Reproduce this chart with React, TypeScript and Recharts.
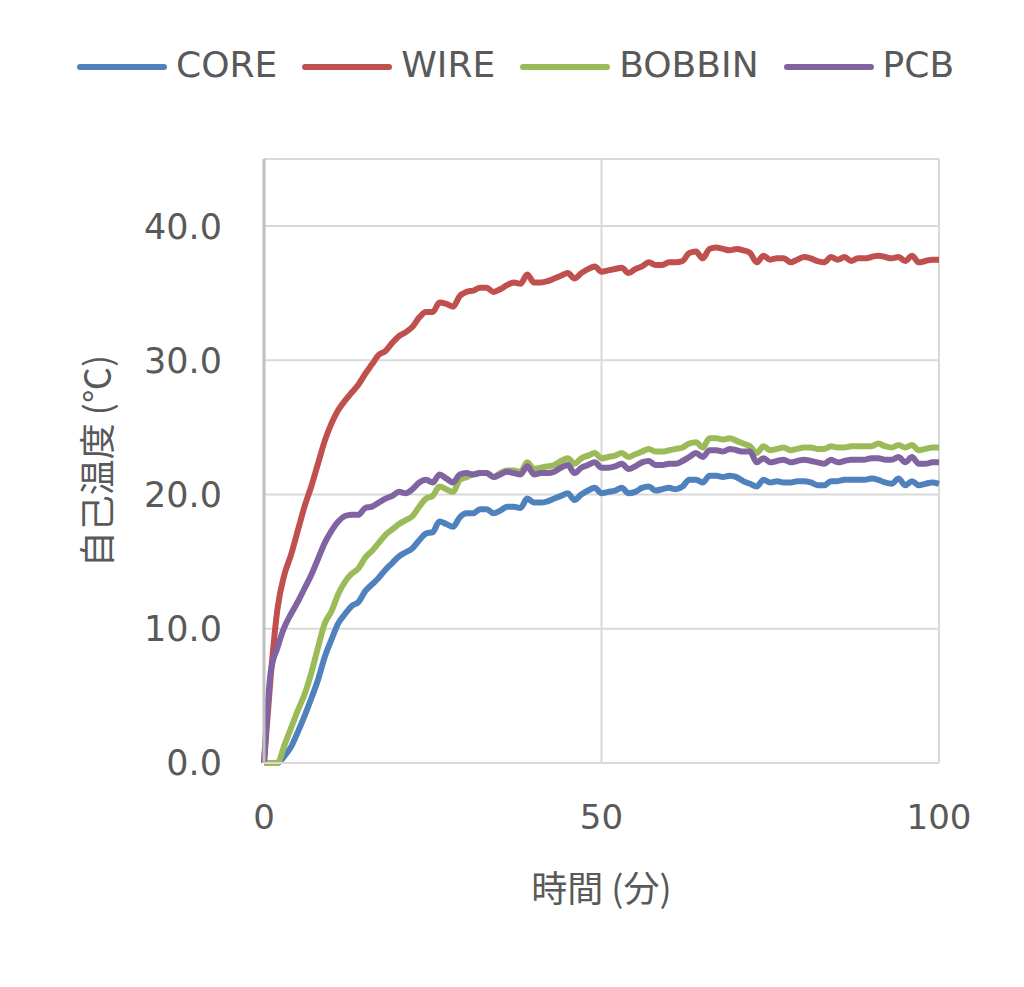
import React from 'react';
import { LineChart, Line, XAxis, YAxis, CartesianGrid, Legend, Label } from 'recharts';

// minutes since start
const minutes = [
  0, 1, 2, 3, 4, 5, 6, 7, 8, 9,
  10, 11, 12, 13, 14, 15, 16, 17, 18, 19,
  20, 21, 22, 23, 24, 25, 26, 27, 28, 29,
  30, 31, 32, 33, 34, 35, 36, 37, 38, 39,
  40, 41, 42, 43, 44, 45, 46, 47, 48, 49,
  50, 51, 52, 53, 54, 55, 56, 57, 58, 59,
  60, 61, 62, 63, 64, 65, 66, 67, 68, 69,
  70, 71, 72, 73, 74, 75, 76, 77, 78, 79,
  80, 81, 82, 83, 84, 85, 86, 87, 88, 89,
  90, 91, 92, 93, 94, 95, 96, 97, 98, 99,
  100,
];

const core = [
  0, 0, 0, 0.5, 1.2, 2.3, 3.5, 4.8, 6.2, 7.9,
  9.2, 10.4, 11.1, 11.7, 12.0, 12.8, 13.3, 13.8, 14.4, 14.9,
  15.4, 15.7, 16.0, 16.6, 17.1, 17.2, 18.0, 17.8, 17.6, 18.3,
  18.6, 18.6, 18.9, 18.9, 18.6, 18.8, 19.1, 19.1, 19.0, 19.7,
  19.4, 19.4, 19.5, 19.7, 19.9, 20.1, 19.6, 20.0, 20.3, 20.5,
  20.1, 20.2, 20.3, 20.5, 20.1, 20.2, 20.5, 20.6, 20.3, 20.4,
  20.5, 20.4, 20.6, 21.1, 21.1, 20.9, 21.4, 21.4, 21.3, 21.4,
  21.3, 21.0, 20.8, 20.6, 21.1, 20.9, 21.0, 20.9, 20.9, 21.0,
  21.0, 20.9, 20.7, 20.7, 21.0, 21.0, 21.1, 21.1, 21.1, 21.1,
  21.2, 21.1, 20.9, 20.8, 21.2, 20.7, 21.0, 20.7, 20.8, 20.9,
  20.8,
];

const wire = [
  0, 6.5, 11.5, 14.0, 15.5, 17.3, 19.1, 20.6, 22.3, 24.0,
  25.3, 26.3, 27.0, 27.6, 28.2, 29.0, 29.7, 30.4, 30.7, 31.3,
  31.8, 32.1, 32.5, 33.2, 33.6, 33.6, 34.3, 34.2, 34.0, 34.8,
  35.1, 35.2, 35.4, 35.4, 35.1, 35.3, 35.6, 35.8, 35.7, 36.4,
  35.8, 35.8, 35.9, 36.1, 36.3, 36.5, 36.1, 36.5, 36.8, 37.0,
  36.6, 36.7, 36.8, 36.9, 36.5, 36.8, 37.0, 37.3, 37.1, 37.1,
  37.3, 37.3, 37.4, 38.0, 38.1, 37.6, 38.3, 38.4, 38.3, 38.2,
  38.3, 38.2, 38.0, 37.3, 37.8, 37.5, 37.6, 37.6, 37.3, 37.5,
  37.7, 37.6, 37.4, 37.3, 37.7, 37.5, 37.7, 37.4, 37.6, 37.6,
  37.7, 37.8, 37.7, 37.6, 37.7, 37.4, 37.8, 37.3, 37.4, 37.5,
  37.5,
];

const bobbin = [
  0, 0, 0, 1.3, 2.6, 3.9, 5.1, 6.7, 8.6, 10.4,
  11.3, 12.6, 13.5, 14.1, 14.5, 15.3, 15.8, 16.4, 17.0, 17.4,
  17.8, 18.1, 18.4, 19.1, 19.7, 19.9, 20.6, 20.4, 20.2, 21.1,
  21.3, 21.5, 21.6, 21.6, 21.3, 21.6, 21.8, 21.8, 21.7, 22.4,
  21.9, 22.0, 22.1, 22.2, 22.5, 22.7, 22.3, 22.7, 22.9, 23.1,
  22.7, 22.8, 22.9, 23.1, 22.8, 23.0, 23.2, 23.4, 23.2, 23.2,
  23.3, 23.4, 23.5, 23.8, 23.9, 23.5, 24.2, 24.2, 24.1, 24.2,
  24.0, 23.8, 23.6, 23.1, 23.6, 23.3, 23.4, 23.5, 23.3, 23.4,
  23.5, 23.5, 23.4, 23.4, 23.6, 23.5, 23.5, 23.6, 23.6, 23.6,
  23.6, 23.8, 23.6, 23.5, 23.7, 23.5, 23.7, 23.3, 23.4, 23.5,
  23.5,
];

const pcb = [
  0, 6.8, 8.6, 10.1, 11.1, 12.0, 13.0, 14.0, 15.2, 16.4,
  17.3, 18.0, 18.4, 18.5, 18.5, 19.0, 19.1, 19.4, 19.7, 19.9,
  20.2, 20.1, 20.4, 20.9, 21.1, 20.9, 21.5, 21.2, 20.9, 21.5,
  21.6, 21.5, 21.6, 21.6, 21.3, 21.5, 21.7, 21.6, 21.5, 22.1,
  21.5, 21.6, 21.6, 21.7, 22.0, 22.2, 21.6, 22.0, 22.2, 22.4,
  22.0, 22.0, 22.1, 22.3, 21.9, 22.1, 22.4, 22.5, 22.2, 22.2,
  22.3, 22.3, 22.5, 22.8, 23.1, 22.8, 23.3, 23.3, 23.2, 23.4,
  23.3, 23.2, 23.2, 22.4, 22.7, 22.4, 22.5, 22.6, 22.4, 22.5,
  22.6, 22.5, 22.4, 22.3, 22.6, 22.4, 22.5, 22.6, 22.6, 22.6,
  22.7, 22.7, 22.6, 22.6, 22.8, 22.4, 22.8, 22.3, 22.3, 22.4,
  22.4,
];

const xTicks = [0, 50, 100];
const yTicks = [0, 10, 20, 30, 40];

const SERIES = [
  { key: 'CORE', color: '#4F81BD', values: core },
  { key: 'WIRE', color: '#C0504D', values: wire },
  { key: 'BOBBIN', color: '#9BBB59', values: bobbin },
  { key: 'PCB', color: '#8064A2', values: pcb },
];

const data = minutes.map((t, i) => {
  const row: Record<string, number> = { t };
  SERIES.forEach(s => { row[s.key] = s.values[i]; });
  return row;
});

const TEXT = '#595959';
const FONT = '"DejaVu Sans", Verdana, sans-serif';
const CJK = '"Noto Sans CJK JP", "DejaVu Sans", sans-serif';

function LegendRow() {
  return (
    <div style={{ display: 'flex', alignItems: 'center', height: 40, paddingLeft: 68, fontFamily: FONT, fontSize: 36, color: TEXT }}>
      {SERIES.map((s, i) => (
        <div key={s.key} style={{ display: 'flex', alignItems: 'center', marginRight: i < SERIES.length - 1 ? 24 : 0 }}>
          <svg width={92} height={10} style={{ marginRight: 8, marginTop: 6 }}>
            <line x1={4} y1={5} x2={88} y2={5} stroke={s.color} strokeWidth={6} strokeLinecap="round" />
          </svg>
          <span>{s.key}</span>
        </div>
      ))}
    </div>
  );
}

export default function App() {
  return (
    <div style={{ width: 1008, height: 970 }}>
      <LineChart width={1008} height={970} data={data} margin={{ top: 111, right: 77, left: 0, bottom: 65 }}>
        <CartesianGrid stroke="#d9d9d9" strokeWidth={2} />
        <Legend
          verticalAlign="top"
          align="left"
          height={40}
          wrapperStyle={{ top: 36, left: 0, height: 40 }}
          content={() => <LegendRow />}
        />
        <XAxis
          dataKey="t"
          type="number"
          domain={[0, 100]}
          ticks={xTicks}
          height={150}
          axisLine={{ stroke: '#d9d9d9', strokeWidth: 2 }}
          tickLine={false}
          tickSize={0}
          tickMargin={42}
          tick={{ fill: TEXT, fontSize: 34, fontFamily: FONT }}
        >
          <Label
            content={({ viewBox }: any) => (
              <text x={viewBox.x + viewBox.width / 2} y={viewBox.y + 139} textAnchor="middle" fill={TEXT} fontSize={36} fontFamily={CJK}>
                時間 (分)
              </text>
            )}
          />
        </XAxis>
        <YAxis
          type="number"
          domain={[0, 45]}
          ticks={yTicks}
          width={256}
          axisLine={{ stroke: '#bfbfbf', strokeWidth: 3 }}
          tickLine={false}
          tickSize={0}
          tickMargin={42}
          tickFormatter={(v: number) => v.toFixed(1)}
          tick={{ fill: TEXT, fontSize: 35, fontFamily: FONT }}
        >
          <Label
            content={({ viewBox }: any) => {
              const cx = viewBox.x + 87;
              const cy = viewBox.y + viewBox.height / 2;
              return (
                <text x={cx} y={cy} transform={`rotate(-90, ${cx}, ${cy})`} textAnchor="middle" dominantBaseline="central" fill={TEXT} fontSize={36} fontFamily={CJK}>
                  自己温度 (℃)
                </text>
              );
            }}
          />
        </YAxis>
        {SERIES.map(s => (
          <Line
            key={s.key}
            dataKey={s.key}
            type="monotone"
            stroke={s.color}
            strokeWidth={6}
            dot={false}
            isAnimationActive={false}
          />
        ))}
      </LineChart>
    </div>
  );
}
